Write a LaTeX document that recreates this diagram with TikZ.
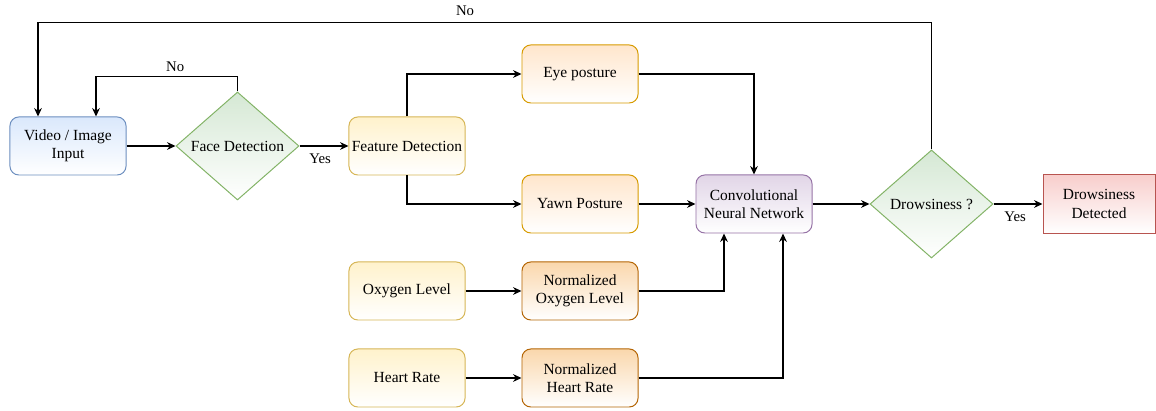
\documentclass[tikz,border=0pt]{standalone}
\usepackage{fontspec}
\setmainfont{Liberation Serif}
\usetikzlibrary{arrows.meta, shapes.geometric}
\definecolor{bluefill}{HTML}{DAE8FC}  \definecolor{bluedraw}{HTML}{6C8EBF}
\definecolor{greenfill}{HTML}{D5E8D4} \definecolor{greendraw}{HTML}{82B366}
\definecolor{yelfill}{HTML}{FFF2CC}   \definecolor{yeldraw}{HTML}{D6B656}
\definecolor{orfill}{HTML}{FFE6CC}    \definecolor{ordraw}{HTML}{D79B00}
\definecolor{dorfill}{HTML}{FAD7AC}   \definecolor{dordraw}{HTML}{B46504}
\definecolor{purfill}{HTML}{E1D5E7}   \definecolor{purdraw}{HTML}{9673A6}
\definecolor{redfill}{HTML}{F8CECC}   \definecolor{reddraw}{HTML}{B85450}
\begin{document}
\begin{tikzpicture}[x = 0.025cm, y = -0.025cm,
		every node/.style = {font = \fontsize{11}{13}\selectfont, align = center},
		box/.style = {rectangle, rounded corners = 0.22cm, line width = 0.7pt, minimum width = 2.9cm, minimum height = 1.45cm, inner sep = 1pt, bottom color = white},
		decide/.style = {diamond, line width = 0.7pt, aspect = 1.14, minimum width = 3.075cm, minimum height = 2.7cm, inner sep = 0pt, draw = greendraw, top color = greenfill, bottom color = white},
		arr/.style = {line width = 0.9pt, -{Stealth[length = 6pt, width = 5.5pt]}},
		lbl/.style = {font = \fontsize{10.5}{12}\selectfont}]
		\useasboundingbox (0, 0) rectangle (1156, 411);
		%%%%%%%%%%%%%
		\node[box, draw = bluedraw, top color = bluefill] (vid) at (68, 146) {Video / Image\\Input};
		\node[decide] (face) at (237.5, 146) {Face Detection};
		\node[box, draw = yeldraw, top color = yelfill] (feat) at (407, 146) {Feature Detection};
		\node[box, draw = ordraw, top color = orfill] (eye) at (580, 74) {Eye posture};
		\node[box, draw = ordraw, top color = orfill] (yawn) at (580, 204) {Yawn Posture};
		\node[box, draw = purdraw, top color = purfill] (cnn) at (754, 204) {Convolutional\\Neural Network};
		\node[decide] (drow) at (931.5, 204) {Drowsiness ?};
		\node[box, rounded corners = 0pt, minimum width = 2.8cm, draw = reddraw, top color = redfill] (det) at (1099, 204) {Drowsiness\\Detected};
		\node[box, draw = yeldraw, top color = yelfill] (oxy) at (407, 291) {Oxygen Level};
		\node[box, draw = dordraw, top color = dorfill] (noxy) at (580, 291) {Normalized\\Oxygen Level};
		\node[box, draw = yeldraw, top color = yelfill] (hr) at (407, 378) {Heart Rate};
		\node[box, draw = dordraw, top color = dorfill] (nhr) at (580, 378) {Normalized\\Heart Rate};
		%%%%%%%%%%%%%
		\draw[arr] (vid) to (face);
		\draw[arr] (face) to node[lbl, below = 2pt, pos = 0.42] {Yes} (feat);
		\draw[arr] (face.north) -- ++(0, -15) -| node[lbl, above, pos = 0.22] {No} ([xshift = 0.7cm]vid.north);
		\draw[arr] (feat.north) |- (eye);
		\draw[arr] (feat.south) |- (yawn);
		\draw[arr] (eye) -| (cnn);
		\draw[arr] (yawn) to (cnn);
		\draw[arr] (cnn) to (drow);
		\draw[arr] (drow) to node[lbl, below = 2pt, pos = 0.44] {Yes} (det);
		\draw[arr] (drow.north) -- ++(0, -127) -| node[lbl, above = 1pt, pos = 0.261] {No} ([xshift = -0.75cm]vid.north);
		\draw[arr] (oxy) to (noxy); \draw[arr] (hr) to (nhr);
		\draw[arr] (noxy) -| ([xshift = -0.75cm]cnn.south);
		\draw[arr] (nhr) -| ([xshift = 0.725cm]cnn.south);
\end{tikzpicture}
\end{document}
